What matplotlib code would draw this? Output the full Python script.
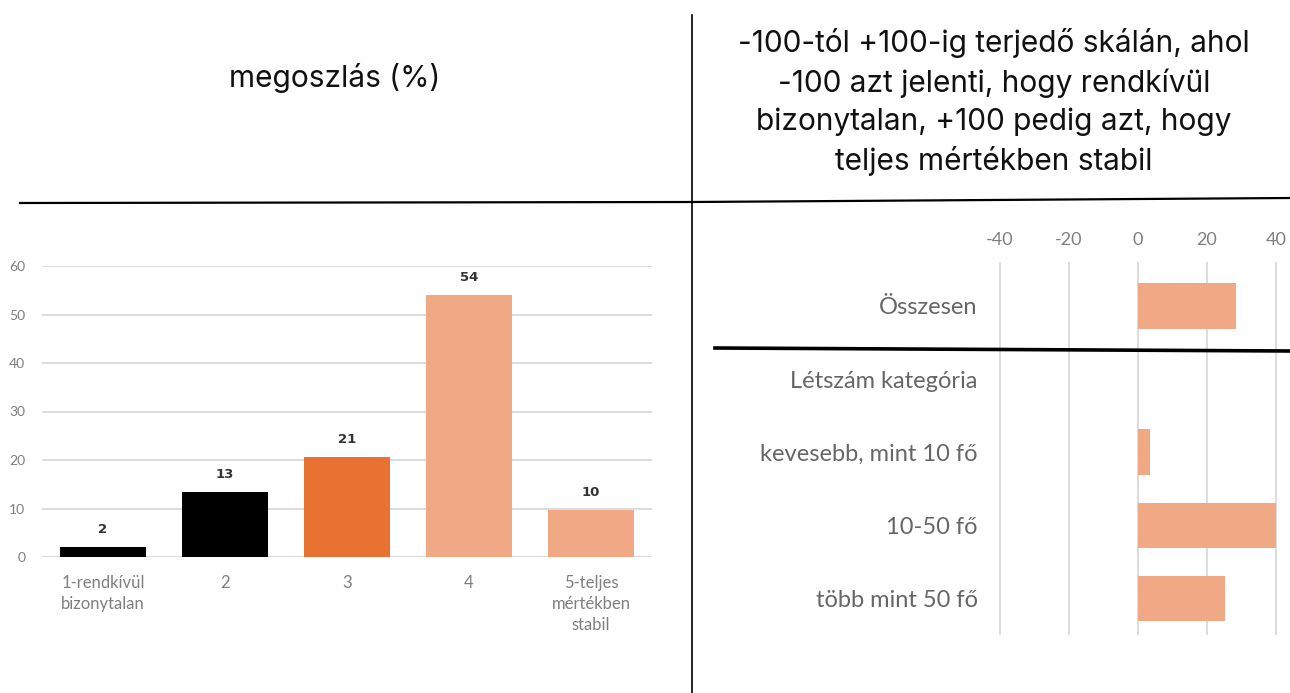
import numpy as np
import matplotlib
matplotlib.use("Agg")
import matplotlib.pyplot as plt
from matplotlib.lines import Line2D

plt.rcParams["axes.unicode_minus"] = False

# left chart: distribution (%)
dist_labels = ["1-rendkívül\nbizonytalan", "2", "3", "4", "5-teljes\nmértékben\nstabil"]
dist_values = [2.0, 13.4, 20.6, 54.1, 9.7]
dist_colors = ["#000000", "#000000", "#E87232", "#F1A985", "#F1A985"]

# right chart: balance on a -100..+100 scale
bal_labels = ["Összesen", "Létszám kategória", "kevesebb, mint 10 fő", "10-50 fő", "több mint 50 fő"]
bal_values = [28.4, 0.0, 3.5, 40.0, 25.2]
bal_ticks = [-40, -20, 0, 20, 40]

title_left = "megoszlás (%)"
title_right = ("-100-tól +100-ig terjedő skálán, ahol\n-100 azt jelenti, hogy rendkívül\n"
               "bizonytalan, +100 pedig azt, hogy\nteljes mértékben stabil")

W, H = 1290, 693
fig = plt.figure(figsize=(W / 100, H / 100), dpi=100)
fig.patch.set_facecolor("white")

gray = "#7f7f7f"
body_font = "Lato"

# --- left bar chart ---
ax1 = fig.add_axes([42 / W, 1 - 557 / H, 610 / W, 291 / H])
x = np.arange(len(dist_values))
bars = ax1.bar(x, dist_values, width=0.7, color=dist_colors, zorder=3)
ax1.set_xlim(-0.5, len(dist_values) - 0.5)
ax1.set_ylim(0, 60)
ax1.set_yticks(range(0, 61, 10))
ax1.grid(axis="y", color="#d9d9d9", lw=1.3, zorder=0)
ax1.set_axisbelow(True)
for s in ax1.spines.values():
    s.set_visible(False)
ax1.set_xticks(x)
ax1.set_xticklabels(dist_labels, fontsize=12, color=gray, family=body_font, linespacing=1.4)
ax1.tick_params(axis="x", length=0, pad=13)
ax1.tick_params(axis="y", length=0, pad=12, labelsize=10, labelcolor=gray)
for lab in ax1.get_yticklabels():
    lab.set_family(body_font)
for b, v in zip(bars, dist_values):
    ax1.annotate(f"{v:.0f}", (b.get_x() + b.get_width() / 2, v), xytext=(0, 8),
                 textcoords="offset points", ha="center", va="bottom",
                 fontsize=9.5, fontweight="bold", color="#333333", family="DejaVu Sans")

# --- right horizontal bar chart ---
ax2 = fig.add_axes([990 / W, 1 - 635 / H, 300 / W, 373 / H])
y = np.arange(len(bal_values))
ax2.barh(y, bal_values, height=0.62, color="#F1A985", lw=0, zorder=3)
ax2.set_xlim(-42.9, 44.1)
ax2.set_ylim(len(bal_values) - 0.5, -0.6)
ax2.set_xticks(bal_ticks)
ax2.xaxis.tick_top()
ax2.grid(axis="x", color="#d9d9d9", lw=1.3, zorder=0)
ax2.set_axisbelow(True)
for s in ax2.spines.values():
    s.set_visible(False)
ax2.set_yticks(y)
ax2.set_yticklabels(bal_labels, fontsize=17, color="#666666", family=body_font)
ax2.tick_params(axis="y", length=0, pad=9)
ax2.tick_params(axis="x", length=0, pad=10, labelsize=13, labelcolor=gray)
for lab in ax2.get_xticklabels():
    lab.set_family(body_font)

# --- header texts and separator lines ---
fig.text(335 / W, 1 - 78 / H, title_left, ha="center", va="center", fontsize=21.5,
         family="Inter", color="#111111")
fig.text(994 / W, 1 - 102 / H, title_right, ha="center", va="center", fontsize=21.5,
         family="Inter", color="#111111", linespacing=1.42)

fig.add_artist(Line2D([20 / W, 692 / W], [1 - 203 / H, 1 - 202 / H], color="black", lw=1.6))
fig.add_artist(Line2D([692 / W, 1.0], [1 - 202 / H, 1 - 198 / H], color="black", lw=1.6))
fig.add_artist(Line2D([692 / W, 692 / W], [1 - 15 / H, 0.0], color="black", lw=1.2))
fig.add_artist(Line2D([715 / W, 1.0], [1 - 348 / H, 1 - 351 / H], color="black", lw=2.6))

fig.savefig("out.png", dpi=100)
